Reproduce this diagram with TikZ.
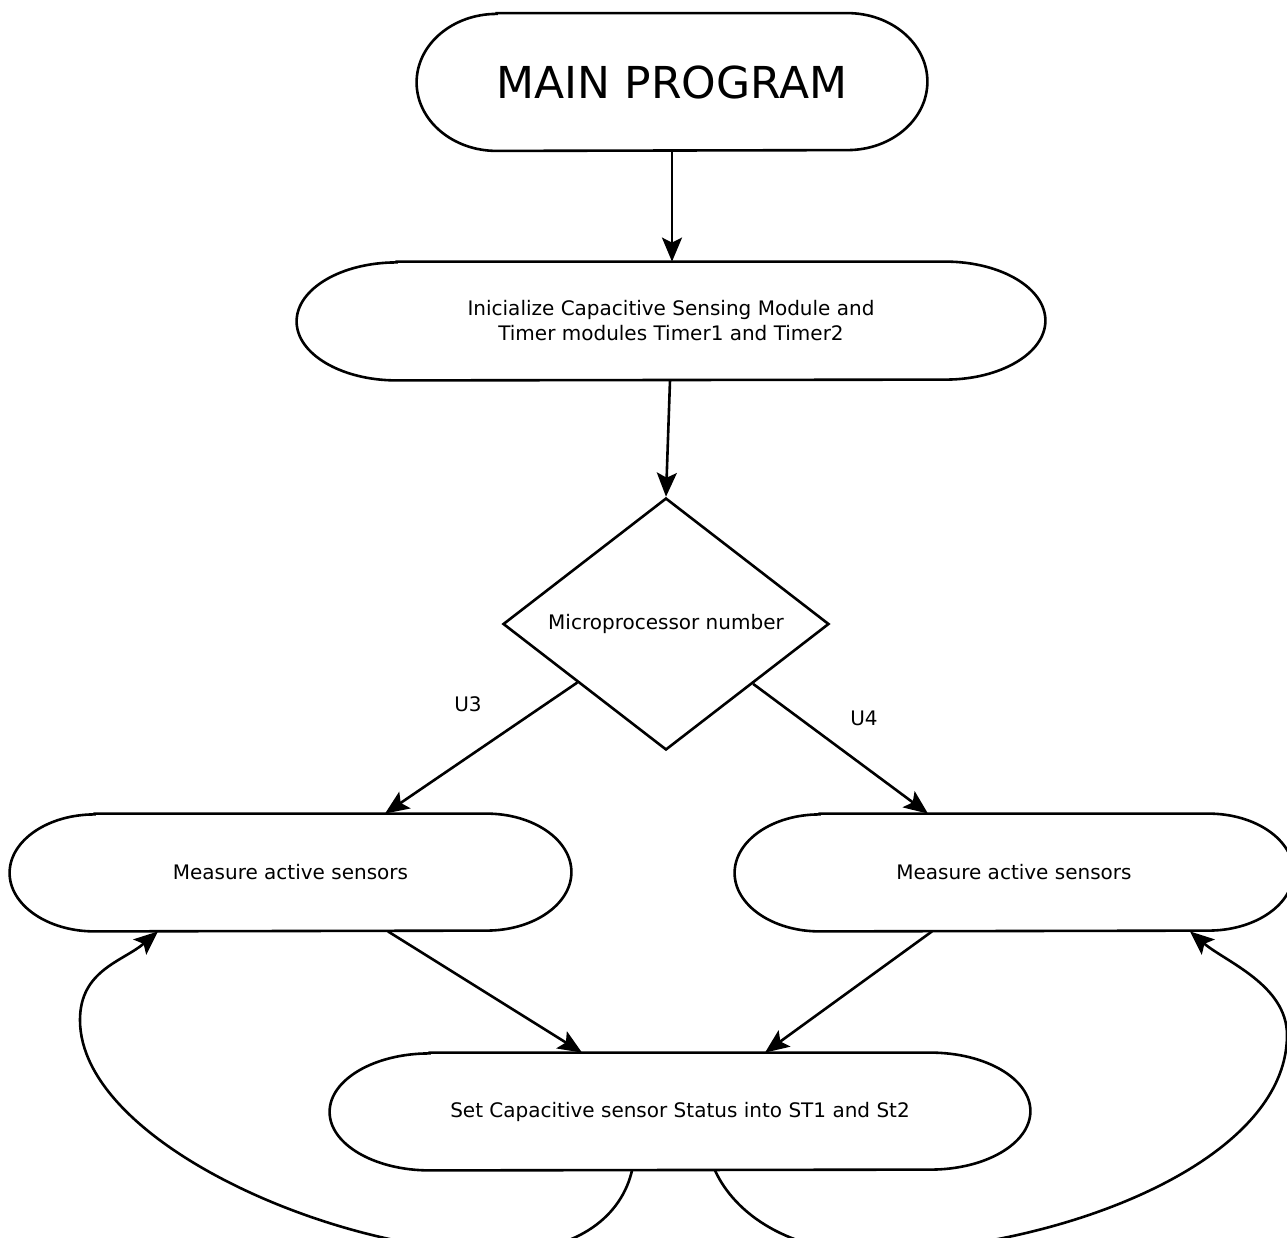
\documentclass[tikz,border=0pt]{standalone}
\usepackage{fontspec}
\setmainfont{DejaVu Sans}
\usetikzlibrary{shapes.geometric,arrows.meta,calc}
\newcommand\stadoutline[3]{%
  \draw[boxline] ([xshift=#2]#1.north west) -- ([xshift=-#2]#1.north east)
    arc[start angle=90,end angle=-90,x radius=#2,y radius=#3]
    -- ([xshift=#2]#1.south west)
    arc[start angle=270,end angle=90,x radius=#2,y radius=#3] -- cycle;}
\begin{document}
\begin{tikzpicture}[x=0.5pt,y=0.5pt,
  boxline/.style={line width=1.3pt,black},
  stad/.style={rectangle,draw=none,inner sep=0pt,align=center,font=\fontsize{10pt}{12.5pt}\selectfont},
  conn/.style={line width=1.3pt,-{Stealth[length=12pt,width=10pt,inset=2.5pt]}},
  lab/.style={font=\fontsize{10pt}{12.5pt}\selectfont,inner sep=0pt}]
\useasboundingbox (0,0) rectangle (1287,-1238);
\node[stad,minimum width=255pt,minimum height=68.5pt,font=\fontsize{22pt}{26pt}\selectfont] (main) at (672,-82) {MAIN PROGRAM};
\stadoutline{main}{40pt}{34.25pt}
\node[stad,minimum width=374pt,minimum height=59pt] (init) at (671,-321) {Inicialize Capacitive Sensing Module and\\Timer modules Timer1 and Timer2};
\stadoutline{init}{50pt}{29.5pt}
\node[diamond,draw,line width=1.3pt,minimum width=163pt,minimum height=126pt,inner sep=0pt,shape aspect=1.3,font=\fontsize{10pt}{12.5pt}\selectfont] (d) at (666,-624) {Microprocessor number};
\node[stad,minimum width=280.5pt,minimum height=58.5pt] (mL) at (290.5,-872.5) {Measure active sensors};
\stadoutline{mL}{42.5pt}{29.25pt}
\node[stad,minimum width=279pt,minimum height=58.5pt] (mR) at (1014,-872.5) {Measure active sensors};
\stadoutline{mR}{42.5pt}{29.25pt}
\node[stad,minimum width=350pt,minimum height=58.5pt] (set) at (680,-1111.5) {Set Capacitive sensor Status into ST1 and St2};
\stadoutline{set}{50pt}{29.25pt}
\node[lab] (u3) at (468,-704) {U3};
\node[lab] (u4) at (864,-718) {U4};
% connectors
\draw[conn] (main.south) -- (main.south |- init.north);
\draw[conn] ([xshift=-0.5pt]init.south) -- (d.north);
\draw[conn] ($(d.west)!0.46!(d.south)$) -- ([xshift=47.25pt]mL.north);
\draw[conn] ($(d.east)!0.47!(d.south)$) -- ([xshift=-43pt]mR.north);
\draw[conn] ([xshift=48.75pt]mL.south) -- ([xshift=-49pt]set.north);
\draw[conn] ([xshift=-41pt]mR.south) -- ([xshift=42.5pt]set.north);
\draw[conn] ([xshift=-24pt]set.south) .. controls +(-10,-44) and +(80,0) .. (500,-1252)
  .. controls +(-170,0) and +(0,-120) .. (80,-1020)
  .. controls +(0,50) and +(-35,-30) .. ([xshift=-66.25pt]mL.south);
\draw[conn] ([xshift=17.5pt]set.south) .. controls +(20,-44) and +(-80,0) .. (870,-1252)
  .. controls +(180,0) and +(0,-130) .. (1287,-1035)
  .. controls +(0,50) and +(35,-30) .. ([xshift=88pt]mR.south);
\end{tikzpicture}
\end{document}
